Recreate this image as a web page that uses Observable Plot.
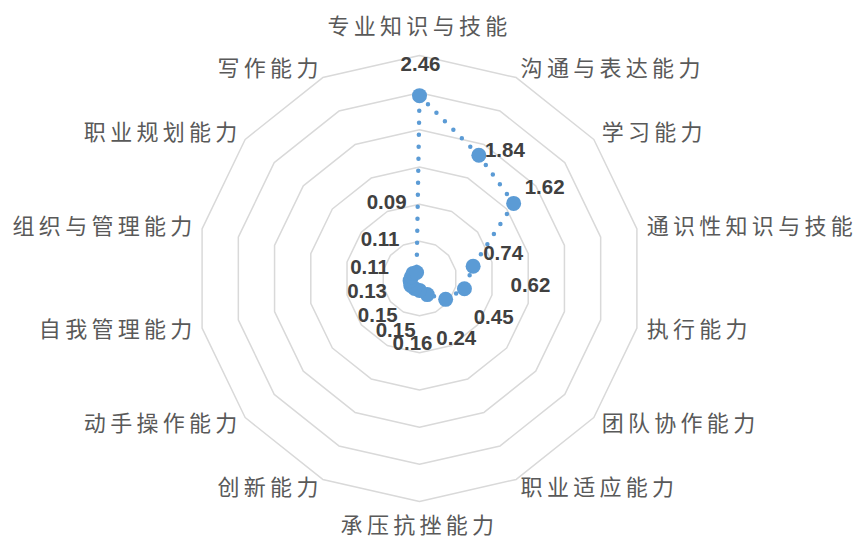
<!DOCTYPE html>
<html><head><meta charset="utf-8">
<script src="https://cdn.jsdelivr.net/npm/d3@7"></script>
<script src="https://cdn.jsdelivr.net/npm/@observablehq/plot@0.6"></script>
<style>body{margin:0;background:#fff}</style>
</head><body><div id="chart"></div>
<script>
// ---- data ----
const categories = ["专业知识与技能","沟通与表达能力","学习能力","通识性知识与技能","执行能力","团队协作能力","职业适应能力","承压抗挫能力","创新能力","动手操作能力","自我管理能力","组织与管理能力","职业规划能力","写作能力"];
const values = [2.46,1.84,1.62,0.74,0.62,0.45,0.24,0.16,0.15,0.15,0.13,0.11,0.11,0.09];
const ringLevels = [0.5,1,1.5,2,2.5,3];

// ---- layout (pixels) ----
const W = 860, H = 540, CX = 419, CY = 278, R = 223, MAXV = 3;
// data-label nudges from each point, in px (Excel-like manual placement)
const labelNudge = [[1,-31],[26,-5],[31,-16],[30,-13],[66,-3],[48,18],[29,44],[-7,53],[-19,42],[-33,30],[-43,11],[-42,-9],[-33,-34],[-30,-70]];

const n = categories.length;
const ang = i => i * 2 * Math.PI / n;
const pol = (i, r) => ({x: r * Math.sin(ang(i)), y: r * Math.cos(ang(i))});
const unit = MAXV / R; // data units per px

const rings = ringLevels.flatMap(l => d3.range(n + 1).map(i => ({level: l, ...pol(i % n, l)})));
const series = d3.range(n + 1).map(i => pol(i % n, values[i % n]));
const points = values.map((v, i) => ({...pol(i, v), v, i}));
const vlabels = points.map(p => ({x: p.x + labelNudge[p.i][0] * unit, y: p.y - labelNudge[p.i][1] * unit, t: p.v.toFixed(2)}));

const catData = categories.map((c, i) => {
  const s = Math.sin(ang(i)), co = Math.cos(ang(i));
  const side = Math.abs(s) < 1e-6 ? "middle" : (s > 0 ? "start" : "end");
  const r = side === "middle" ? (co > 0 ? 252 : 247) * unit : 233 * unit;
  return {c, side, ...pol(i, r)};
});

const catFont = "'Noto Sans CJK SC', sans-serif";
const catText = side => Plot.text(catData.filter(d => d.side === side), {
  x: "x", y: "y", text: "c", textAnchor: side, lineAnchor: "middle",
  fontSize: 22, fill: "#595959", fontFamily: catFont, className: "cat"
});

const chart = Plot.plot({
  width: W, height: H, margin: 0,
  x: {domain: [-MAXV, MAXV], range: [CX - R, CX + R], axis: null},
  y: {domain: [-MAXV, MAXV], range: [CY + R, CY - R], axis: null},
  style: {background: "#fff", overflow: "visible"},
  marks: [
    Plot.line(rings, {x: "x", y: "y", z: "level", stroke: "#d9d9d9", strokeWidth: 1.5, curve: "linear"}),
    Plot.line(series, {x: "x", y: "y", stroke: "#5B9BD5", strokeWidth: 4.5, strokeDasharray: "0 12", strokeLinecap: "round"}),
    Plot.dot(points, {x: "x", y: "y", r: 7.5, fill: "#5B9BD5", stroke: "none"}),
    Plot.text(vlabels, {x: "x", y: "y", text: "t", textAnchor: "middle", lineAnchor: "middle",
      fontSize: 20.5, fontWeight: "bold", fill: "#404040", fontFamily: "'Liberation Sans', Arial, sans-serif"}),
    catText("start"), catText("middle"), catText("end")
  ]
});
chart.querySelectorAll("g.cat text").forEach(t => t.setAttribute("letter-spacing", "4.3"));
// middle-anchored labels: compensate trailing letter-spacing
chart.querySelectorAll("g.cat[text-anchor='middle'] text").forEach(t => t.setAttribute("dx", "2.1"));
chart.querySelectorAll("g.cat[text-anchor='end'] text").forEach(t => t.setAttribute("dx", "4.3"));
document.getElementById("chart").appendChild(chart);
</script>
</body></html>
